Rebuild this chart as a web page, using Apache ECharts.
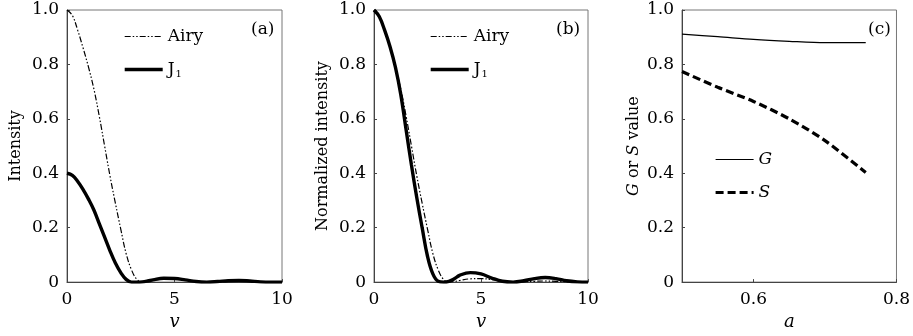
<!DOCTYPE html>
<html>
<head>
<meta charset="utf-8">
<script src="https://cdn.jsdelivr.net/npm/echarts@6/dist/echarts.min.js"></script>
<style>
html,body{margin:0;padding:0;background:#fff;}
#c{width:913px;height:336px;}
</style>
</head>
<body>
<div id="c"></div>
<script>
// ---- data ----
const vGrid = [0,0.25,0.5,0.75,1.0,1.25,1.5,1.75,2.0,2.25,2.5,2.75,3.0,3.25,3.5,3.75,4.0,4.5,5.0,5.5,6.0,6.5,7.0,7.5,8.0,8.5,9.0,9.5,10];
const airy   = [1.0,0.98,0.925,0.86,0.79,0.71,0.61,0.50,0.39,0.29,0.195,0.105,0.045,0.01,0.0,0.002,0.006,0.012,0.013,0.009,0.003,0.0,0.001,0.003,0.004,0.003,0.001,0.0,0.0];
const j1Abs  = [0.40,0.392,0.37,0.34,0.305,0.265,0.215,0.165,0.115,0.07,0.035,0.01,0.0,0.0,0.001,0.004,0.008,0.014,0.013,0.008,0.002,0.0,0.002,0.005,0.006,0.004,0.001,0.0,0.0];
const j1Norm = [1.0,0.975,0.925,0.865,0.79,0.69,0.56,0.43,0.31,0.2,0.095,0.03,0.003,0.0,0.003,0.012,0.025,0.035,0.03,0.015,0.003,0.0,0.005,0.013,0.017,0.013,0.005,0.001,0.0];
const aVals  = [0.50,0.55,0.60,0.65,0.70,0.757];
const gVals  = [0.911,0.902,0.892,0.885,0.880,0.880];
const sVals  = [0.774,0.716,0.664,0.600,0.520,0.403];
const vTicks = [0,5,10];
const yTicks = [0,0.2,0.4,0.6,0.8,1.0];
const aTicks = [0.6,0.8];

const pairs = (xs, ys) => xs.map((x, i) => [x, ys[i]]);
const FONT = "DejaVu Serif";
const FS = 17;
const axisCol = '#444';
const AIRY_DASH = [6,2,1.5,2,1.5,2];
const AIRY_STYLE = {color:'#000', width:1.2, type:AIRY_DASH};
const J1_STYLE = {color:'#000', width:3.4, type:'solid'};
const G_STYLE = {color:'#000', width:1.2, type:'solid'};
const S_STYLE = {color:'#000', width:3.2, type:[8,4]};

const chart = echarts.init(document.getElementById('c'), null, {renderer:'canvas'});

const grids = [
  {left:67, top:10, width:215, height:273},
  {left:374, top:10, width:214, height:273},
  {left:682, top:10, width:216, height:273}
].map(g => Object.assign(g, {show:true, borderColor:'#777', borderWidth:1, backgroundColor:'transparent'}));

function yAxis(idx, name, gap) {
  return {
    type:'value', gridIndex:idx, min:0, max:1, interval:0.2,
    name:name, nameLocation:'middle', nameGap:gap,
    nameTextStyle:{fontFamily:FONT, fontSize:16, color:'#000',
      rich:{i:{fontFamily:FONT, fontSize:16, fontStyle:'italic', color:'#000'}, n:{fontFamily:FONT, fontSize:16, color:'#000'}}},
    axisLine:{show:true, lineStyle:{color:axisCol, width:1}},
    axisTick:{show:true, inside:true, length:3, lineStyle:{color:axisCol}},
    splitLine:{show:false},
    axisLabel:{fontFamily:FONT, fontSize:FS, color:'#000', margin:8,
      formatter: v => v === 0 ? '0' : v.toFixed(1)}
  };
}
function xAxisV(idx) {
  return {
    type:'value', gridIndex:idx, min:0, max:10, interval:5,
    name:'v', nameLocation:'middle', nameGap:29,
    nameTextStyle:{fontFamily:FONT, fontSize:18, fontStyle:'italic', color:'#000'},
    axisLine:{show:true, lineStyle:{color:axisCol, width:1}},
    axisTick:{show:true, inside:true, length:3, lineStyle:{color:axisCol}},
    splitLine:{show:false},
    axisLabel:{fontFamily:FONT, fontSize:FS, color:'#000', margin:9}
  };
}

const legendRich = {
  sub:{fontFamily:FONT, fontSize:10, color:'#000', verticalAlign:'bottom', padding:[9,0,0,1]},
  it:{fontFamily:FONT, fontSize:FS, fontStyle:'italic', color:'#000'}
};
const legendBase = {orient:'vertical', itemWidth:38, itemHeight:14, itemGap:16, selectedMode:false,
  itemStyle:{opacity:0, borderWidth:0},
  textStyle:{fontFamily:FONT, fontSize:FS, color:'#000', rich:legendRich}};
const abData = [
  {name:'Airy', lineStyle:AIRY_STYLE, itemStyle:{opacity:0}},
  {name:'J1', lineStyle:J1_STYLE, itemStyle:{opacity:0}}
];

const option = {
  animation:false,
  backgroundColor:'#fff',
  grid: grids,
  title: [
    {text:'(a)', left:246, top:16, textStyle:{fontFamily:FONT, fontSize:FS, fontWeight:'normal', color:'#000'}},
    {text:'(b)', left:551, top:16, textStyle:{fontFamily:FONT, fontSize:FS, fontWeight:'normal', color:'#000'}},
    {text:'(c)', left:863, top:16, textStyle:{fontFamily:FONT, fontSize:FS, fontWeight:'normal', color:'#000'}}
  ],
  legend: [
    Object.assign({left:118, top:23, data:abData,
      formatter: n => n === 'J1' ? 'J{sub|1}' : n}, legendBase),
    Object.assign({left:424, top:23, data:abData,
      formatter: n => n === 'J1' ? 'J{sub|1}' : n}, legendBase),
    Object.assign({left:709, top:146, data:[
        {name:'G', lineStyle:G_STYLE, itemStyle:{opacity:0}},
        {name:'S', lineStyle:S_STYLE, itemStyle:{opacity:0}}],
      formatter: n => '{it|' + n + '}'}, legendBase)
  ],
  xAxis: [
    xAxisV(0), xAxisV(1),
    {type:'value', gridIndex:2, min:0.5, max:0.8,
     name:'a', nameLocation:'middle', nameGap:29,
     nameTextStyle:{fontFamily:FONT, fontSize:18, fontStyle:'italic', color:'#000'},
     axisLine:{show:true, lineStyle:{color:axisCol, width:1}},
     axisTick:{show:true, inside:true, length:3, lineStyle:{color:axisCol}, customValues:aTicks},
     splitLine:{show:false},
     axisLabel:{fontFamily:FONT, fontSize:FS, color:'#000', margin:9, customValues:aTicks,
       formatter: v => v.toFixed(1)}}
  ],
  yAxis: [
    yAxis(0, 'Intensity', 43),
    yAxis(1, 'Normalized intensity', 43),
    yAxis(2, '{i|G}{n| or }{i|S}{n| value}', 40)
  ],
  series: [
    {name:'Airy', type:'line', xAxisIndex:0, yAxisIndex:0, data:pairs(vGrid, airy), smooth:0.4,
     showSymbol:false, symbol:'none', lineStyle:AIRY_STYLE, itemStyle:{color:'#000'}},
    {name:'J1', type:'line', xAxisIndex:0, yAxisIndex:0, data:pairs(vGrid, j1Abs), smooth:0.4,
     showSymbol:false, symbol:'none', lineStyle:J1_STYLE, itemStyle:{color:'#000'}},
    {name:'Airy', type:'line', xAxisIndex:1, yAxisIndex:1, data:pairs(vGrid, airy), smooth:0.4,
     showSymbol:false, symbol:'none', lineStyle:AIRY_STYLE, itemStyle:{color:'#000'}},
    {name:'J1', type:'line', xAxisIndex:1, yAxisIndex:1, data:pairs(vGrid, j1Norm), smooth:0.4,
     showSymbol:false, symbol:'none', lineStyle:J1_STYLE, itemStyle:{color:'#000'}},
    {name:'G', type:'line', xAxisIndex:2, yAxisIndex:2, data:pairs(aVals, gVals), smooth:0.3,
     showSymbol:false, symbol:'none', lineStyle:G_STYLE, itemStyle:{color:'#000'}},
    {name:'S', type:'line', xAxisIndex:2, yAxisIndex:2, data:pairs(aVals, sVals), smooth:0.3,
     showSymbol:false, symbol:'none', lineStyle:S_STYLE, itemStyle:{color:'#000'}}
  ]
};
chart.setOption(option);
</script>
</body>
</html>
